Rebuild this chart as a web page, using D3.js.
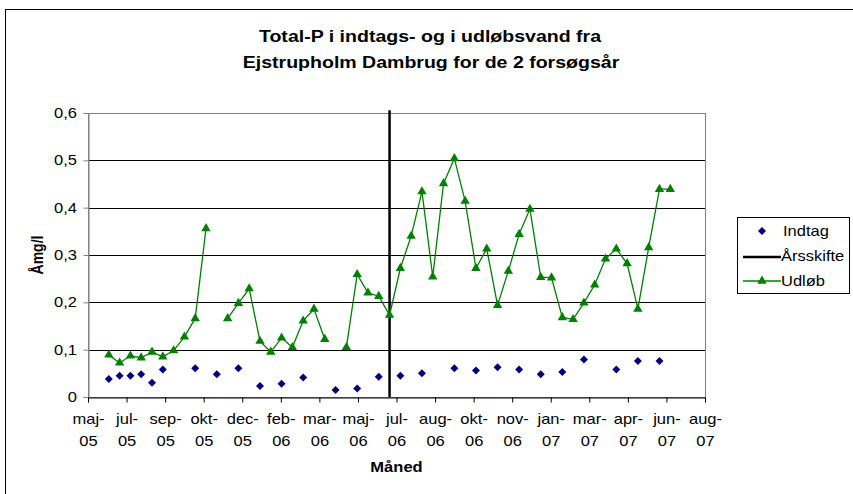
<!DOCTYPE html>
<html lang="da">
<head>
<meta charset="UTF-8">
<title>Total-P</title>
<script src="https://d3js.org/d3.v7.min.js"></script>
<style>
  body { margin: 0; background: #fff; }
  svg { display: block; font-family: "Liberation Sans", Arial, sans-serif; }
  .tick text { font-size: 14px; fill: #000; }
</style>
</head>
<body>
<div id="chart"></div>
<script>
// prøvedatoer (hver 14. dag)
const sampleDates = [
  "2005-06-24","2005-07-08","2005-07-22","2005-08-05","2005-08-19","2005-09-02","2005-09-16","2005-09-30",
  "2005-10-14","2005-10-28","2005-11-11","2005-11-25","2005-12-09","2005-12-23","2006-01-06","2006-01-20",
  "2006-02-03","2006-02-17","2006-03-03","2006-03-17","2006-03-31","2006-04-14","2006-04-28","2006-05-12",
  "2006-05-26","2006-06-09","2006-06-23","2006-07-07","2006-07-21","2006-08-04","2006-08-18","2006-09-01",
  "2006-09-15","2006-09-29","2006-10-13","2006-10-27","2006-11-10","2006-11-24","2006-12-08","2006-12-22",
  "2007-01-05","2007-01-19","2007-02-02","2007-02-16","2007-03-02","2007-03-16","2007-03-30","2007-04-13",
  "2007-04-27","2007-05-11","2007-05-25","2007-06-08","2007-06-22"
];
const indtag = [
  0.038,0.045,0.045,0.048,0.030,0.058,null,null,0.061,null,0.048,null,0.061,null,0.023,null,
  0.028,null,0.041,null,null,0.015,null,0.018,null,0.043,null,0.045,null,0.050,null,null,
  0.061,null,0.056,null,0.063,null,0.058,null,0.048,null,0.053,null,0.079,null,null,0.058,
  null,0.076,null,0.076,null
];
const udloeb = [
  0.089,0.072,0.087,0.083,0.095,0.085,0.098,0.127,0.166,0.356,null,0.166,0.198,0.229,0.118,0.095,
  0.125,0.105,0.161,0.186,0.122,null,0.105,0.259,0.220,0.213,0.173,0.272,0.340,0.434,0.254,0.451,
  0.504,0.414,0.272,0.313,0.194,0.266,0.344,0.397,0.253,0.252,0.168,0.164,0.199,0.237,0.292,0.313,
  0.282,0.186,0.316,0.439,0.439
];
const aarsskifte = "2006-06-23";
// aksens første dato og afstand mellem mærker (dage)
const axisStart = "2005-05-28";
const tickStepDays = 50;
const tickLabels = ["maj-05","jul-05","sep-05","okt-05","dec-05","feb-06","mar-06","maj-06","jul-06",
  "aug-06","okt-06","nov-06","jan-07","mar-07","apr-07","jun-07","aug-07"];
const yTicks = [0, 0.1, 0.2, 0.3, 0.4, 0.5, 0.6];

const W = 853, H = 494;
const plot = { left: 88, right: 705, top: 113, bottom: 397 };
const SX = 1.18; // teksten i originalen er lidt bredere end Arial
const parse = d3.utcParse("%Y-%m-%d");
const t0 = parse(axisStart);
const tickDates = tickLabels.map((_, i) => d3.utcDay.offset(t0, i * tickStepDays));

const svg = d3.select("#chart").append("svg").attr("width", W).attr("height", H);

// tekst med vandret skalering
function label(x0, y0, str, opts) {
  const o = Object.assign({ size: 14, bold: false, anchor: "start", rotate: 0, sx: SX }, opts);
  const g = svg.append("g").attr("transform",
    `translate(${x0},${y0}) rotate(${o.rotate}) scale(${o.rotate ? 1 : o.sx},${o.rotate ? o.sx : 1})`);
  return g.append("text").attr("text-anchor", o.anchor).attr("font-size", o.size)
    .attr("font-weight", o.bold ? "bold" : null).text(str);
}

// ydre ramme
svg.append("rect").attr("x", 5.5).attr("y", 9.5).attr("width", 900).attr("height", 600)
  .attr("fill", "#fff").attr("stroke", "#000");

const x = d3.scaleUtc().domain([tickDates[0], tickDates[tickDates.length - 1]])
  .range([plot.left, plot.right]);
const y = d3.scaleLinear().domain([0, 0.6]).range([plot.bottom, plot.top]);

const da = d3.formatLocale({ decimal: ",", thousands: ".", grouping: [3], currency: ["", " kr"] });
const fmt = v => v === 0 ? "0" : da.format(".1f")(v);

// gitterlinjer
svg.append("g").selectAll("line").data(yTicks.slice(1, -1)).join("line")
  .attr("x1", plot.left).attr("x2", plot.right)
  .attr("y1", d => Math.round(y(d)) + 0.5).attr("y2", d => Math.round(y(d)) + 0.5)
  .attr("stroke", "#000").attr("stroke-width", 1);

// plotramme
svg.append("rect").attr("x", plot.left + 0.5).attr("y", plot.top + 0.5)
  .attr("width", plot.right - plot.left).attr("height", plot.bottom - plot.top)
  .attr("fill", "none").attr("stroke", "#808080");

// y-akse
const yAxis = svg.append("g").attr("transform", `translate(${plot.left + 0.5},0)`)
  .call(d3.axisLeft(y).tickValues(yTicks).tickFormat(fmt).tickSize(5).tickPadding(6));
yAxis.select(".domain").attr("stroke", "#808080");
yAxis.selectAll(".tick line").attr("stroke", "#808080");
yAxis.selectAll(".tick text").attr("x", -11.5 / SX).attr("transform", `scale(${SX},1)`);

// x-akse
const xAxis = svg.append("g").attr("transform", `translate(0,${plot.bottom + 0.5})`)
  .call(d3.axisBottom(x).tickValues(tickDates).tickFormat(() => "").tickSize(5));
xAxis.select(".domain").attr("stroke", "#000");
xAxis.selectAll(".tick line").attr("stroke", "#000");
xAxis.selectAll(".tick").each(function(d, i) {
  const parts = tickLabels[i].split("-");
  const t = d3.select(this).select("text").attr("y", 0).attr("dy", null)
    .attr("transform", `scale(${SX},1)`);
  t.append("tspan").attr("x", 0).attr("y", 27).text(parts[0] + "-");
  t.append("tspan").attr("x", 0).attr("y", 49).text(parts[1]);
});

// Årsskifte
const xs = x(parse(aarsskifte));
svg.append("line").attr("x1", xs).attr("x2", xs).attr("y1", y(0.606)).attr("y2", y(0))
  .attr("stroke", "#000").attr("stroke-width", 2.5);

const pts = sampleDates.map((d, i) => ({ date: parse(d), ind: indtag[i], ud: udloeb[i] }));

// Udløb linje
const line = d3.line().defined(d => d.ud != null).x(d => x(d.date)).y(d => y(d.ud));
svg.append("path").datum(pts).attr("d", line).attr("fill", "none")
  .attr("stroke", "#008000").attr("stroke-width", 1.3);

const tri = d3.symbol().type(d3.symbolTriangle).size(38);
const dia = "M0,-4L4,0L0,4L-4,0Z";

svg.append("g").selectAll("path").data(pts.filter(d => d.ud != null)).join("path")
  .attr("transform", d => `translate(${x(d.date)},${y(d.ud)})`)
  .attr("d", tri).attr("fill", "#008000");

svg.append("g").selectAll("path").data(pts.filter(d => d.ind != null)).join("path")
  .attr("transform", d => `translate(${x(d.date)},${y(d.ind)})`)
  .attr("d", dia).attr("fill", "#000080");

// titler
label(430, 42, "Total-P i indtags- og i udløbsvand fra", { size: 17, bold: true, anchor: "middle", sx: 1.15 });
label(431, 68, "Ejstrupholm Dambrug for de 2 forsøgsår", { size: 17, bold: true, anchor: "middle", sx: 1.15 });
label((plot.left + plot.right) / 2, 472, "Måned", { size: 14, bold: true, anchor: "middle" });
label(43, (plot.top + plot.bottom) / 2, "Åmg/l", { size: 14, bold: true, anchor: "middle", rotate: -90 });

// forklaring
const lg = svg.append("g");
lg.append("rect").attr("x", 737.5).attr("y", 217.5).attr("width", 112).attr("height", 76)
  .attr("fill", "#fff").attr("stroke", "#000");
const items = ["Indtag", "Årsskifte", "Udløb"];
items.forEach((name, i) => {
  const yy = 231 + i * 25;
  if (i === 0) lg.append("path").attr("d", dia).attr("transform", `translate(762,${yy})`).attr("fill", "#000080");
  if (i === 1) lg.append("line").attr("x1", 743).attr("x2", 781).attr("y1", yy + 1).attr("y2", yy + 1)
    .attr("stroke", "#000").attr("stroke-width", 2.5);
  if (i === 2) {
    lg.append("line").attr("x1", 743).attr("x2", 781).attr("y1", yy).attr("y2", yy)
      .attr("stroke", "#008000").attr("stroke-width", 1.3);
    lg.append("path").attr("d", tri).attr("transform", `translate(762,${yy})`).attr("fill", "#008000");
  }
  label(i === 0 ? 783 : 781, yy + 5, name, { size: 14 });
});
</script>
</body>
</html>
